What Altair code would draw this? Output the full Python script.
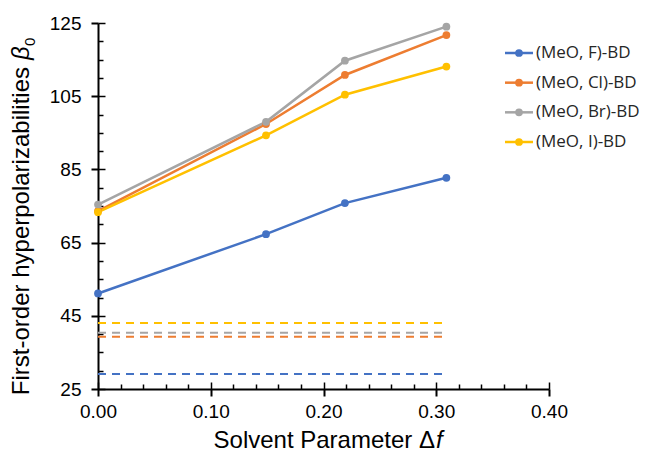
import altair as alt
import pandas as pd

# ---------------- data ----------------
series_names = ["(MeO, F)-BD", "(MeO, Cl)-BD", "(MeO, Br)-BD", "(MeO, I)-BD"]
series_colors = ["#4472C4", "#ED7D31", "#A5A5A5", "#FFC000"]
delta_f = [0.0, 0.149, 0.219, 0.309]
beta_F = [51.1, 67.3, 75.8, 82.7]
beta_Cl = [73.6, 97.4, 110.8, 121.7]
beta_Br = [75.4, 98.0, 114.7, 124.0]
beta_I = [73.3, 94.3, 105.4, 113.1]
beta_gas = [29.1, 39.3, 40.4, 43.0]
x_ticks = [0.0, 0.1, 0.2, 0.3, 0.4]
y_ticks = [25, 45, 65, 85, 105, 125]
x_minor = [round(0.02 * i, 2) for i in range(21)]
y_minor = list(range(25, 126, 5))
x_title_main = "Solvent Parameter Δ"
x_title_ital = "f"
y_title_main = "First-order hyperpolarizabilities"
y_title_ital = "β"
y_title_sub = "0"

rows = []
for name, vals in zip(series_names, [beta_F, beta_Cl, beta_Br, beta_I]):
    for xv, yv in zip(delta_f, vals):
        rows.append({"series": name, "df": xv, "beta": yv})
lines_df = pd.DataFrame(rows)
gas_df = pd.DataFrame({"series": series_names, "beta": beta_gas,
                       "x0": [delta_f[0]] * 4, "x1": [delta_f[-1]] * 4})
legend_df = pd.DataFrame({"series": series_names})

# ---------------- style ----------------
FONT = "Liberation Sans"
W, H = 451, 366
color_scale = alt.Scale(domain=series_names, range=series_colors)
x_scale = alt.Scale(domain=[0, 0.4], nice=False, zero=False)
y_scale = alt.Scale(domain=[25, 125], nice=False, zero=False)
leg_y = alt.Y("series:N", sort=series_names, axis=None,
              scale=alt.Scale(type="point", domain=series_names, range=[30, 119], padding=0))
leg_color = alt.Color("series:N", scale=color_scale, legend=None)

lines = alt.Chart(lines_df).mark_line(
    strokeWidth=2.5, point=alt.OverlayMarkDef(filled=True, size=60, opacity=1)
).encode(
    x=alt.X("df:Q", scale=x_scale, axis=alt.Axis(
        orient="bottom", values=x_ticks, format=".2f", title=None, grid=False,
        domainColor="black", domainWidth=2, tickColor="black", tickWidth=2,
        tickSize=7, labelFont=FONT, labelFontSize=19, labelColor="black",
        labelPadding=6, labelFlush=False)),
    y=alt.Y("beta:Q", scale=y_scale, axis=alt.Axis(
        orient="left", values=y_ticks, title=None, grid=False,
        domainColor="black", domainWidth=2, tickColor="black", tickWidth=2,
        tickSize=7, labelFont=FONT, labelFontSize=19, labelColor="black",
        labelPadding=10, labelFlush=False)),
    color=leg_color,
)

rules = alt.Chart(gas_df).mark_rule(strokeWidth=2, strokeDash=[8, 6]).encode(
    x=alt.X("x0:Q", scale=x_scale, axis=alt.Axis(
        orient="top", offset=-H, values=x_minor, labels=False, domain=False,
        grid=False, title=None, tickColor="black", tickWidth=1.5,
        tickSize={"condition": {"test": "abs(datum.value*10 - round(datum.value*10)) < 0.001", "value": 7}, "value": 5})),
    x2="x1:Q",
    y=alt.Y("beta:Q", scale=y_scale, axis=alt.Axis(
        orient="right", offset=-W, values=y_minor, labels=False, domain=False,
        grid=False, title=None, tickColor="black", tickWidth=1.5,
        tickSize={"condition": {"test": "(datum.value - 25) % 20 == 0", "value": 7}, "value": 5})),
    color=leg_color,
)

leg_line = alt.Chart(legend_df).mark_rule(strokeWidth=2.5).encode(
    x=alt.value(407), x2=alt.value(435), y=leg_y, color=leg_color)
leg_pt = alt.Chart(legend_df).mark_point(filled=True, size=60, opacity=1).encode(
    x=alt.value(421), y=leg_y, color=leg_color)
leg_txt = alt.Chart(legend_df).mark_text(
    align="left", baseline="middle", font="Open Sans", fontSize=17, color="#262626"
).encode(x=alt.value(438), y=leg_y, text="series:N")

xt1 = alt.Chart(pd.DataFrame({"t": [x_title_main]})).mark_text(
    align="right", baseline="alphabetic", font=FONT, fontSize=24, color="black"
).encode(x=alt.value(337), y=alt.value(425), text="t:N")
xt2 = alt.Chart(pd.DataFrame({"t": [x_title_ital]})).mark_text(
    align="left", baseline="alphabetic", font=FONT, fontSize=24, fontStyle="italic", color="black"
).encode(x=alt.value(338), y=alt.value(425), text="t:N")
yt1 = alt.Chart(pd.DataFrame({"t": [y_title_main]})).mark_text(
    align="right", baseline="alphabetic", font=FONT, fontSize=24, angle=270, color="black"
).encode(x=alt.value(-69), y=alt.value(44), text="t:N")
yt2 = alt.Chart(pd.DataFrame({"t": [y_title_ital]})).mark_text(
    align="left", baseline="alphabetic", font=FONT, fontSize=24, fontStyle="italic", angle=270, color="black"
).encode(x=alt.value(-69), y=alt.value(37), text="t:N")
yt3 = alt.Chart(pd.DataFrame({"t": [y_title_sub]})).mark_text(
    align="left", baseline="alphabetic", font=FONT, fontSize=15, angle=270, color="black"
).encode(x=alt.value(-63), y=alt.value(23), text="t:N")

chart = alt.layer(rules, lines, leg_line, leg_pt, leg_txt, xt1, xt2, yt1, yt2, yt3).resolve_scale(
    y="independent"
).resolve_axis(
    x="independent", y="independent"
).properties(
    width=W, height=H,
    autosize=alt.AutoSizeParams(type="none"),
    padding={"left": 90, "top": 15, "right": 92, "bottom": 64},
    background="white",
).configure_view(stroke=None)

chart.save("out.html", embed_options={"renderer": "svg", "actions": False})
